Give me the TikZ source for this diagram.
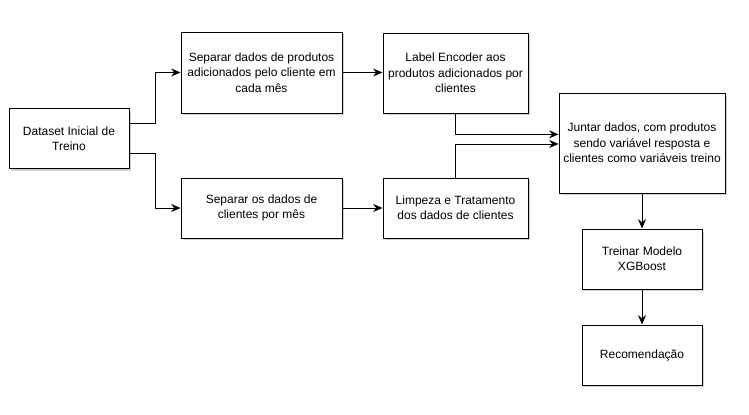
\documentclass[tikz,border=0pt]{standalone}
\usepackage{fontspec}
\setmainfont{Liberation Sans}
\usetikzlibrary{positioning, arrows.meta, shadows}
\definecolor{sombraCinza}{HTML}{9A9A9A}

\tikzset{
  etapa/.style={draw=black, line width=0.75pt, fill=white, align=center, inner sep=0pt,
    font=\fontsize{9}{11.5}\selectfont,
    drop shadow={shadow xshift=1.6pt, shadow yshift=-1.6pt, fill=sombraCinza, opacity=0.45}},
  caixa/.style 2 args={etapa, minimum width=#1*0.75pt, minimum height=#2*0.75pt},
  seta/.style={-{Stealth[length=7pt,width=6pt]}, line width=0.75pt}
}

\begin{document}
\begin{tikzpicture}[x=0.75pt, y=-0.75pt]
  \useasboundingbox (0,0) rectangle (749,414);
  \node[caixa={120}{60}] (dataset) at (69,138.5) {Dataset Inicial de\\Treino};
  \node[caixa={161}{81}] (sepProdutos) at (261.5,72.5) {Separar dados de produtos\\adicionados pelo cliente em\\cada mês};
  \node[caixa={161}{60}] (sepClientes) at (261.5,208) {Separar os dados de\\clientes por mês};
  \node[caixa={145}{80}] (encoder) at (455.5,73) {Label Encoder aos\\produtos adicionados por\\clientes};
  \node[caixa={145}{60}] (limpeza) at (455.5,208) {Limpeza e Tratamento\\dos dados de clientes};
  \node[caixa={166}{100}] (juntar) at (642,143) {Juntar dados, com produtos\\sendo variável resposta e\\clientes como variáveis treino};
  \node[caixa={120}{60}] (treinar) at (642,259) {Treinar Modelo\\XGBoost};
  \node[caixa={120}{60}] (recomendacao) at (642,355) {Recomendação};

  \draw[seta] ([yshift=10.9pt]dataset.east) -- ++(26,0) |- (sepProdutos.west);
  \draw[seta] ([yshift=-11.6pt]dataset.east) -- ++(26,0) |- (sepClientes.west);
  \draw[seta] (sepProdutos.east) -- (sepProdutos.east -| encoder.west);
  \draw[seta] (sepClientes.east) -- (sepClientes.east -| limpeza.west);
  \draw[seta] (encoder.south) |- ([yshift=6.5pt]juntar.west);
  \draw[seta] (limpeza.north) |- ([yshift=-0.75pt]juntar.west);
  \draw[seta] (juntar) -- (treinar);
  \draw[seta] (treinar) -- (recomendacao);
\end{tikzpicture}
\end{document}
